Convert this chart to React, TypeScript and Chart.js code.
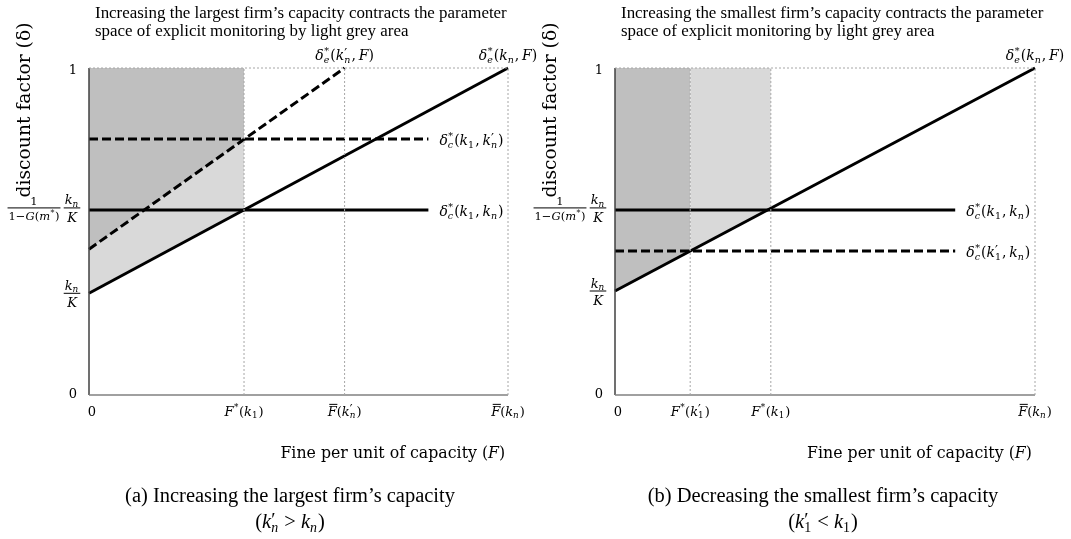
import React, { useEffect, useRef } from 'react';
import { Chart, registerables } from 'chart.js';
Chart.register(...registerables);

type Pt = { x: number; y: number };
type Seg = { t: string; it?: boolean; sub?: string; subIt?: boolean; sup?: string; over?: boolean };

const MATH = '"DejaVu Serif", "Liberation Serif", serif';
const CAP = '"Liberation Serif", "DejaVu Serif", serif';
const W = 1071;
const H = 539;

// ---------- Panel (a): increasing the largest firm's capacity ----------
const aEkn: Pt[] = [{ x: 0, y: 0.311 }, { x: 1, y: 1 }];          // δe*(kn,F)
const aEknP: Pt[] = [{ x: 0, y: 0.446 }, { x: 0.61, y: 1 }];      // δe*(k'n,F)
const aCkn: Pt[] = [{ x: 0, y: 0.566 }, { x: 0.81, y: 0.566 }];   // δc*(k1,kn)
const aCknP: Pt[] = [{ x: 0, y: 0.783 }, { x: 0.81, y: 0.783 }];  // δc*(k1,k'n)
const aDarkEdge: Pt[] = [{ x: 0, y: 0.446 }, { x: 0.37, y: 0.782 }];
const aLightEdge: Pt[] = [{ x: 0, y: 0.311 }, { x: 0.37, y: 0.566 }];
const aGuideX = [0.37, 0.61, 1];
const aXTicks = [0, 0.37, 0.61, 1];

// ---------- Panel (b): decreasing the smallest firm's capacity ----------
const bEkn: Pt[] = [{ x: 0, y: 0.318 }, { x: 1, y: 1 }];          // δe*(kn,F)
const bCkn: Pt[] = [{ x: 0, y: 0.566 }, { x: 0.81, y: 0.566 }];   // δc*(k1,kn)
const bCk1P: Pt[] = [{ x: 0, y: 0.44 }, { x: 0.81, y: 0.44 }];    // δc*(k'1,kn)
const bDarkEdge: Pt[] = [{ x: 0, y: 0.318 }, { x: 0.179, y: 0.44 }];
const bLightEdge: Pt[] = [{ x: 0.179, y: 0.44 }, { x: 0.371, y: 0.571 }];
const bGuideX = [0.179, 0.371, 1];
const bXTicks = [0, 0.179, 0.371, 1];

const DARK = '#bfbfbf';
const LIGHT = '#d9d9d9';
const GUIDE = '#a6a6a6';
const DASH = [9, 4];

// ---------- text helpers ----------
function setFont(ctx: CanvasRenderingContext2D, size: number, it = false, fam = MATH) {
  ctx.font = `${it ? 'italic ' : ''}${size}px ${fam}`;
}
function supSize(s: Seg, size: number) {
  return s.sup === '′' ? size * 0.95 : size * 0.68;
}
function segW(ctx: CanvasRenderingContext2D, s: Seg, size: number, fam: string) {
  setFont(ctx, size, s.it, fam);
  const w = ctx.measureText(s.t).width;
  let sw = 0;
  if (s.sup) { setFont(ctx, supSize(s, size), false, fam); sw = Math.max(sw, ctx.measureText(s.sup).width); }
  if (s.sub) { setFont(ctx, size * 0.68, s.subIt, fam); sw = Math.max(sw, ctx.measureText(s.sub).width); }
  return w + (sw ? sw + 1 : 0);
}
function richW(ctx: CanvasRenderingContext2D, segs: Seg[], size: number, fam = MATH) {
  return segs.reduce((a, s) => a + segW(ctx, s, size, fam), 0);
}
function drawRich(ctx: CanvasRenderingContext2D, segs: Seg[], x: number, yMid: number, size: number, align: 'left' | 'center' | 'right' = 'left', fam = MATH) {
  const w = richW(ctx, segs, size, fam);
  let cx = align === 'center' ? x - w / 2 : align === 'right' ? x - w : x;
  const base = yMid + size * 0.35;
  ctx.save();
  ctx.textBaseline = 'alphabetic';
  ctx.textAlign = 'left';
  ctx.fillStyle = '#000';
  ctx.strokeStyle = '#000';
  for (const s of segs) {
    setFont(ctx, size, s.it, fam);
    ctx.fillText(s.t, cx, base);
    const mw = ctx.measureText(s.t).width;
    if (s.over) {
      ctx.beginPath();
      ctx.lineWidth = Math.max(1, size * 0.07);
      ctx.moveTo(cx + size * 0.12, base - size * 0.86);
      ctx.lineTo(cx + mw + size * 0.05, base - size * 0.86);
      ctx.stroke();
    }
    cx += mw;
    let sw = 0;
    if (s.sup) {
      const prime = s.sup === '′';
      setFont(ctx, supSize(s, size), false, fam);
      ctx.fillText(s.sup, cx + (prime ? 0 : 0.5), base - size * (prime ? 0.12 : 0.4));
      sw = Math.max(sw, ctx.measureText(s.sup).width);
    }
    if (s.sub) {
      setFont(ctx, size * 0.68, s.subIt, fam);
      ctx.fillText(s.sub, cx, base + size * 0.2);
      sw = Math.max(sw, ctx.measureText(s.sub).width);
    }
    if (sw) cx += sw + 1;
  }
  ctx.restore();
}
function drawFrac(ctx: CanvasRenderingContext2D, num: Seg[], den: Seg[], cx: number, cy: number, size: number) {
  const w = Math.max(richW(ctx, num, size), richW(ctx, den, size)) + 2;
  ctx.save();
  ctx.strokeStyle = '#000';
  ctx.lineWidth = 1;
  ctx.beginPath();
  ctx.moveTo(cx - w / 2, cy);
  ctx.lineTo(cx + w / 2, cy);
  ctx.stroke();
  ctx.restore();
  drawRich(ctx, num, cx, cy - size * 0.62, size, 'center');
  drawRich(ctx, den, cx, cy + size * 0.7, size, 'center');
}
function fitSize(ctx: CanvasRenderingContext2D, text: string, target: number, fam = MATH) {
  setFont(ctx, 20, false, fam);
  return (20 * target) / ctx.measureText(text).width;
}
function plainText(ctx: CanvasRenderingContext2D, text: string, x: number, yMid: number, size: number, align: CanvasTextAlign = 'left', fam = MATH) {
  ctx.save();
  setFont(ctx, size, false, fam);
  ctx.fillStyle = '#000';
  ctx.textAlign = align;
  ctx.textBaseline = 'middle';
  ctx.fillText(text, x, yMid);
  ctx.restore();
}

// ---------- math label pieces ----------
const S = (t: string, o: Partial<Seg> = {}): Seg => ({ t, ...o });
const kn: Seg = S('k', { it: true, sub: 'n', subIt: true });
const knP: Seg = S('k', { it: true, sub: 'n', subIt: true, sup: '′' });
const k1: Seg = S('k', { it: true, sub: '1' });
const k1P: Seg = S('k', { it: true, sub: '1', sup: '′' });
const dE: Seg = S('δ', { it: true, sup: '*', sub: 'e', subIt: true });
const dC: Seg = S('δ', { it: true, sup: '*', sub: 'c', subIt: true });
const comma = S(',\u2009');

const LBL_dE_knP = [dE, S('('), knP, comma, S('F', { it: true }), S(')')];
const LBL_dE_kn = [dE, S('('), kn, comma, S('F', { it: true }), S(')')];
const LBL_dC_k1kn = [dC, S('('), k1, comma, kn, S(')')];
const LBL_dC_k1knP = [dC, S('('), k1, comma, knP, S(')')];
const LBL_dC_k1Pkn = [dC, S('('), k1P, comma, kn, S(')')];
const FRAC_NUM = [S('1')];
const FRAC_DEN = [S('1−'), S('G', { it: true }), S('('), S('m', { it: true, sup: '*' }), S(')')];
const KN_NUM = [kn];
const KN_DEN = [S('K', { it: true })];

const aXLabels: Seg[][] = [
  [S('0')],
  [S('F', { it: true, sup: '*' }), S('('), k1, S(')')],
  [S('F', { it: true, over: true }), S('('), knP, S(')')],
  [S('F', { it: true, over: true }), S('('), kn, S(')')],
];
const bXLabels: Seg[][] = [
  [S('0')],
  [S('F', { it: true, sup: '*' }), S('('), k1P, S(')')],
  [S('F', { it: true, sup: '*' }), S('('), k1, S(')')],
  [S('F', { it: true, over: true }), S('('), kn, S(')')],
];

type PanelText = {
  title: [string, string];
  caption: string;
  captionMath: Seg[];
  xTicks: number[];
  xLabels: Seg[][];
  fracLevel: number;
  knLevel: number;
  topLabels: { x: number; segs: Seg[] }[];
  sideLabels: { x: number; y: number; segs: Seg[] }[];
  captionX: number;
};

function drawPanel(chart: Chart, p: PanelText) {
  const ctx = chart.ctx;
  const xs = chart.scales.x;
  const ys = chart.scales.y;
  const left = xs.getPixelForValue(0);
  const right = xs.getPixelForValue(1);
  const top = ys.getPixelForValue(1);
  const bottom = ys.getPixelForValue(0);

  // title
  const tSize = fitSize(ctx, 'Increasing the largest firm’s capacity contracts the parameter', 412, CAP);
  plainText(ctx, p.title[0], left + 6, 14, tSize, 'left', CAP);
  plainText(ctx, p.title[1], left + 6, 32, tSize, 'left', CAP);

  // y axis title
  const ySize = fitSize(ctx, 'discount factor (δ)', 175);
  ctx.save();
  ctx.translate(left - 64, 110);
  ctx.rotate(-Math.PI / 2);
  plainText(ctx, 'discount factor (δ)', 0, 0, ySize, 'center');
  ctx.restore();

  // y tick labels
  const tickSize = 13;
  plainText(ctx, '1', left - 16, top + 3, tickSize, 'center');
  plainText(ctx, '0', left - 16, bottom, tickSize, 'center');
  drawFrac(ctx, FRAC_NUM, FRAC_DEN, left - 55, ys.getPixelForValue(p.fracLevel) - 2, 11.5);
  drawFrac(ctx, KN_NUM, KN_DEN, left - 17, ys.getPixelForValue(p.fracLevel) - 2, 13);
  drawFrac(ctx, KN_NUM, KN_DEN, left - 17, ys.getPixelForValue(p.knLevel), 13);

  // x tick labels
  p.xTicks.forEach((v, i) => {
    const px = xs.getPixelForValue(v) + (i === 0 ? 3 : 0);
    drawRich(ctx, p.xLabels[i], px, bottom + 16, 13, 'center');
  });

  // x axis title
  const xSize = fitSize(ctx, 'Fine per unit of capacity (F)', 225);
  drawRich(ctx, [S('Fine per unit of capacity ('), S('F', { it: true }), S(')')], left + (right - left) * 0.725, 452, xSize, 'center');

  // line labels
  p.topLabels.forEach((l) => drawRich(ctx, l.segs, xs.getPixelForValue(l.x), top - 13, 14, 'center'));
  p.sideLabels.forEach((l) => drawRich(ctx, l.segs, xs.getPixelForValue(l.x) + 11, ys.getPixelForValue(l.y) + 1, 14, 'left'));

  // caption
  const cSize = fitSize(ctx, '(a) Increasing the largest firm’s capacity', 330, CAP);
  plainText(ctx, p.caption, p.captionX, 497, cSize, 'center', CAP);
  drawRich(ctx, p.captionMath, p.captionX, 521, cSize, 'center', CAP);
}

const line = (data: Pt[], color: string, width: number, dash: number[] = []) => ({
  data,
  borderColor: color,
  borderWidth: width,
  borderDash: dash,
  pointRadius: 0,
  fill: false as const,
  tension: 0,
  clip: false as const,
});
const guides = (xsArr: number[]) => [
  ...xsArr.map((x) => line([{ x, y: 0 }, { x, y: 1 }], GUIDE, 1, [2, 2])),
  line([{ x: 0, y: 1 }, { x: 1, y: 1 }], GUIDE, 1, [2, 2]),
];
const axes = () => [
  line([{ x: 0, y: 0 }, { x: 1, y: 0 }], '#808080', 1.5),
  line([{ x: 0, y: 0 }, { x: 0, y: 1 }], '#404040', 1.5),
];

function makeChart(canvas: HTMLCanvasElement, datasets: any[], padLeft: number, padRight: number, p: PanelText) {
  return new Chart(canvas, {
    type: 'line',
    data: { datasets },
    options: {
      responsive: false,
      animation: false,
      events: [],
      layout: { padding: { left: padLeft, right: padRight, top: 68, bottom: H - 395 } },
      scales: {
        x: { type: 'linear', min: 0, max: 1, display: false },
        y: { type: 'linear', min: 0, max: 1, display: false },
      },
      plugins: {
        legend: { display: false },
        tooltip: { enabled: false },
        filler: { drawTime: 'beforeDatasetsDraw' } as any,
      },
    },
    plugins: [{ id: 'panelText', afterDraw: (c: Chart) => drawPanel(c, p) }],
  });
}

export default function App() {
  const refA = useRef<HTMLCanvasElement>(null);
  const refB = useRef<HTMLCanvasElement>(null);

  useEffect(() => {
    const dsA = [
      { ...line(aDarkEdge, 'transparent', 0), fill: 'end', backgroundColor: DARK },
      { ...line(aLightEdge, 'transparent', 0), fill: 0, backgroundColor: LIGHT },
      ...guides(aGuideX),
      ...axes(),
      line(aCkn, '#000', 3),
      line(aCknP, '#000', 3, DASH),
      line(aEkn, '#000', 3),
      line(aEknP, '#000', 3, DASH),
    ];
    const dsB = [
      { ...line(bDarkEdge, 'transparent', 0), fill: 'end', backgroundColor: DARK },
      { ...line(bLightEdge, 'transparent', 0), fill: 'end', backgroundColor: LIGHT },
      ...guides(bGuideX),
      ...axes(),
      line(bCkn, '#000', 3),
      line(bCk1P, '#000', 3, DASH),
      line(bEkn, '#000', 3),
    ];
    const pA: PanelText = {
      title: ['Increasing the largest firm’s capacity contracts the parameter', 'space of explicit monitoring by light grey area'],
      caption: '(a) Increasing the largest firm’s capacity',
      captionMath: [S('('), knP, S(' > '), kn, S(')')],
      xTicks: aXTicks,
      xLabels: aXLabels,
      fracLevel: aCkn[0].y,
      knLevel: aEkn[0].y,
      topLabels: [
        { x: aEknP[1].x, segs: LBL_dE_knP },
        { x: aEkn[1].x, segs: LBL_dE_kn },
      ],
      sideLabels: [
        { x: aCknP[1].x, y: aCknP[1].y, segs: LBL_dC_k1knP },
        { x: aCkn[1].x, y: aCkn[1].y, segs: LBL_dC_k1kn },
      ],
      captionX: 290,
    };
    const pB: PanelText = {
      title: ['Increasing the smallest firm’s capacity contracts the parameter', 'space of explicit monitoring by light grey area'],
      caption: '(b) Decreasing the smallest firm’s capacity',
      captionMath: [S('('), k1P, S(' < '), k1, S(')')],
      xTicks: bXTicks,
      xLabels: bXLabels,
      fracLevel: bCkn[0].y,
      knLevel: bEkn[0].y,
      topLabels: [{ x: bEkn[1].x, segs: LBL_dE_kn }],
      sideLabels: [
        { x: bCkn[1].x, y: bCkn[1].y, segs: LBL_dC_k1kn },
        { x: bCk1P[1].x, y: bCk1P[1].y, segs: LBL_dC_k1Pkn },
      ],
      captionX: 823,
    };
    const ca = makeChart(refA.current!, dsA, 89, W - 508, pA);
    const cb = makeChart(refB.current!, dsB, 615, W - 1035, pB);
    return () => {
      ca.destroy();
      cb.destroy();
    };
  }, []);

  const cs: React.CSSProperties = { position: 'absolute', left: 0, top: 0, width: W, height: H };
  return (
    <div style={{ position: 'absolute', left: 0, top: 0, width: W, height: H, background: '#fff' }}>
      <canvas ref={refA} width={W} height={H} style={cs} />
      <canvas ref={refB} width={W} height={H} style={cs} />
    </div>
  );
}
